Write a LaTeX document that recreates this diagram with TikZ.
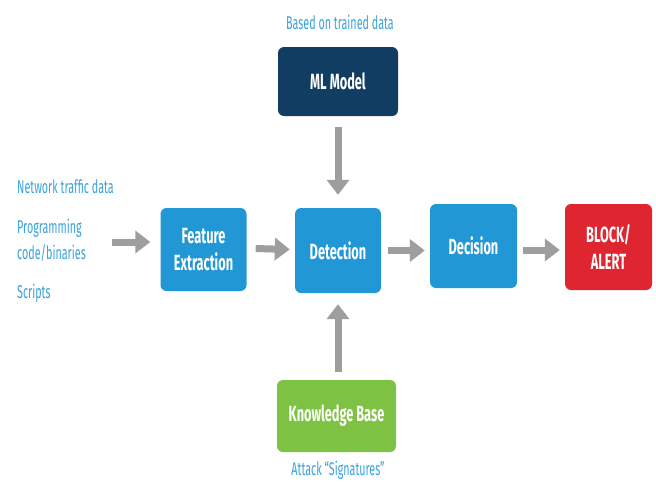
\documentclass[tikz,border=0pt]{standalone}
\usepackage{fontspec}
\setmainfont{Fira Sans}[FakeStretch=0.58]
\usetikzlibrary{arrows.meta}
\definecolor{boxblue}{HTML}{2197D6}
\definecolor{navy}{HTML}{123D63}
\definecolor{alertred}{HTML}{DF2630}
\definecolor{kbgreen}{HTML}{7DC242}
\definecolor{labelblue}{HTML}{3AA3DB}
\definecolor{arrowgrey}{HTML}{9E9E9E}
\tikzset{
  box/.style={rounded corners=6pt, minimum width=#1, text=white, font=\fontsize{22}{27}\selectfont\bfseries, align=center, inner sep=0pt},
  box/.default=86pt,
  lbl/.style={text=labelblue, font=\fontsize{18.5}{26}\selectfont, inner sep=0pt},
  flow/.style={draw=arrowgrey, line width=7pt, -{Triangle[width=22pt,length=15pt]}}
}
\begin{document}
\begin{tikzpicture}[x=1pt,y=-1pt]
\useasboundingbox (0,0) rectangle (656,483);
\fill[white] (0,0) rectangle (656,483);
% boxes
\node[box=120pt, fill=navy, minimum height=69pt] (ml) at (338,81.5) {ML Model};
\node[box, fill=boxblue, minimum height=83pt] (fe) at (203.5,249.5) {Feature\\Extraction};
\node[box, fill=boxblue, minimum height=85pt] (det) at (338,250.5) {Detection};
\node[box=87pt, fill=boxblue, minimum height=84pt] (dec) at (473.5,246) {Decision};
\node[box=87pt, fill=alertred, minimum height=86pt] (blk) at (608.5,247) {BLOCK/\\ALERT};
\node[box=119pt, fill=kbgreen, minimum height=72pt] (kb) at (336.5,416) {Knowledge Base};
% labels
\node[lbl] (tr) at (340,22) {Based on trained data};
\node[lbl] (sig) at (338,470) {Attack ``Signatures''};
\node[lbl, anchor=west] (net) at (17,187) {Network traffic data};
\node[lbl, anchor=west, align=left] (prog) at (17,240) {Programming\\code/binaries};
\node[lbl, anchor=west] (scr) at (17,293) {Scripts};
% arrows
\coordinate (in) at (112,242);
\draw[flow] (in) -- ([xshift=-10pt]fe.west |- in);
\draw[flow] ([xshift=9pt,yshift=1pt]fe.east) -- ([xshift=-5pt,yshift=1pt]det.west);
\draw[flow] ([xshift=7pt]det.east) -- ([xshift=-5pt]dec.west |- det.east);
\draw[flow] ([xshift=6pt,yshift=-4pt]dec.east) -- ([xshift=-5pt,yshift=-4pt]blk.west |- dec.east);
\draw[flow] ([yshift=-11pt]ml.south) -- ([yshift=13pt]det.north);
\draw[flow] ([xshift=1.5pt,yshift=8pt]kb.north) -- ([yshift=-11pt]det.south);
\end{tikzpicture}
\end{document}
